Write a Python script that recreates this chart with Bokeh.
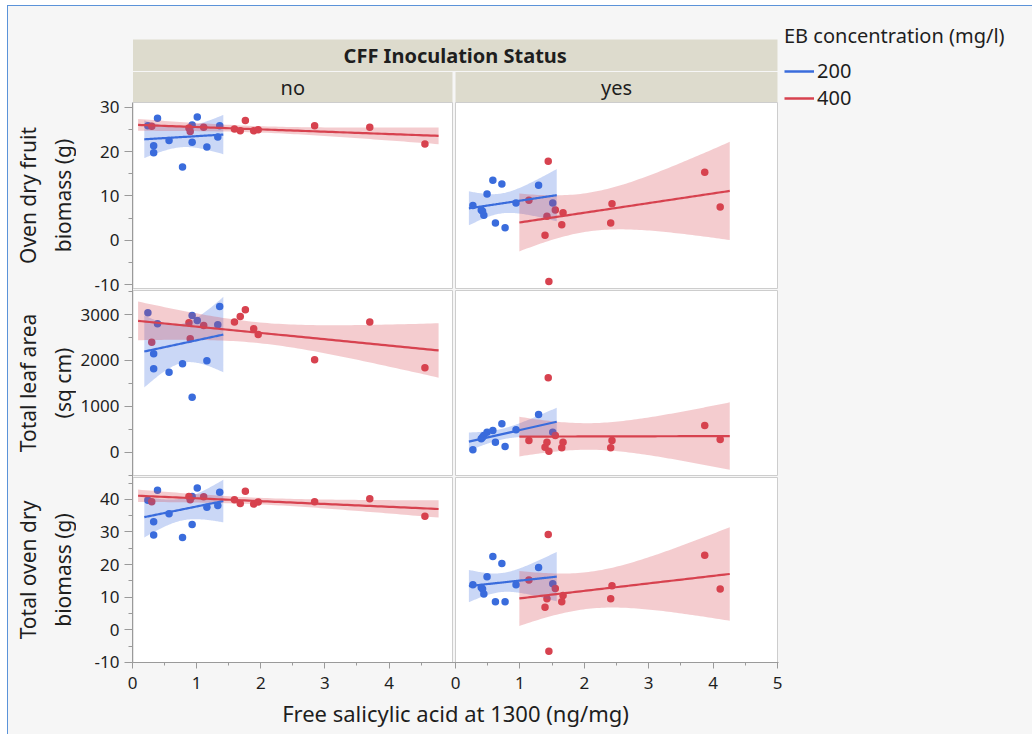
import numpy as np
from bokeh.plotting import figure
from bokeh.models import (Range1d, FixedTicker, CustomJSTickFormatter, Legend, LegendItem, Spacer)
from bokeh.layouts import column, row
from bokeh.embed import file_html
from bokeh.resources import INLINE
from bokeh.core.properties import value

# ---------------- data ----------------
status_labels = ["no", "yes"]
conc_labels = ["200", "400"]
row_titles = ["Oven dry fruit\nbiomass (g)", "Total leaf area\n(sq cm)", "Total oven dry\nbiomass (g)"]
x_title = "Free salicylic acid at 1300 (ng/mg)"
header_title = "CFF Inoculation Status"
legend_title = "EB concentration (mg/l)"

# CFF = no, EB = 200
x_no_200 = [0.24, 0.39, 0.33, 0.33, 0.57, 0.78, 0.93, 0.93, 1.01, 1.16, 1.33, 1.36]
fruit_no_200 = [25.8, 27.5, 21.3, 19.7, 22.5, 16.5, 26.0, 22.1, 27.8, 21.0, 23.3, 25.8]
leaf_no_200 = [3039, 2799, 2145, 1818, 1744, 1927, 2980, 1199, 2871, 1993, 2777, 3176]
total_no_200 = [39.7, 42.8, 33.1, 29.1, 35.6, 28.3, 40.9, 32.3, 43.5, 37.6, 38.1, 42.2]

# CFF = no, EB = 400
x_no_400 = [0.30, 0.88, 0.90, 1.11, 1.59, 1.68, 1.76, 1.89, 1.96, 2.84, 3.70, 4.56]
fruit_no_400 = [25.7, 25.3, 24.5, 25.5, 25.1, 24.7, 27.0, 24.7, 24.9, 25.8, 25.5, 21.7]
leaf_no_400 = [2398, 2821, 2472, 2762, 2834, 2958, 3104, 2690, 2566, 2014, 2834, 1840]
total_no_400 = [39.3, 40.9, 39.9, 40.8, 39.9, 38.7, 42.5, 38.6, 39.2, 39.3, 40.2, 34.8]

# CFF = yes, EB = 200
x_yes_200 = [0.27, 0.40, 0.42, 0.44, 0.49, 0.58, 0.62, 0.72, 0.77, 0.94, 1.29, 1.51]
fruit_yes_200 = [7.8, 6.8, 6.5, 5.6, 10.4, 13.5, 3.9, 12.7, 2.8, 8.4, 12.4, 8.4]
leaf_yes_200 = [52, 292, 327, 364, 436, 473, 218, 619, 124, 488, 822, 436]
total_yes_200 = [13.8, 13.0, 12.5, 11.0, 16.3, 22.5, 8.6, 20.3, 8.6, 13.8, 19.1, 14.1]

# CFF = yes, EB = 400
x_yes_400 = [1.14, 1.39, 1.42, 1.44, 1.45, 1.55, 1.65, 1.67, 2.41, 2.43, 3.87, 4.11]
fruit_yes_400 = [9.0, 1.1, 5.4, 17.8, -9.3, 6.8, 3.5, 6.2, 3.9, 8.2, 15.3, 7.5]
leaf_yes_400 = [255, 109, 218, 1622, 22, 364, 96, 218, 96, 255, 582, 277]
total_yes_400 = [15.3, 6.9, 9.5, 29.2, -6.6, 12.7, 8.6, 10.5, 9.5, 13.5, 22.9, 12.5]

# y-axis ranges and ticks per row
y_ranges = [(-10.9, 31.06), (-508, 3523), (-10.02, 46.7)]
y_ticks = [[-10, 0, 10, 20, 30], [0, 1000, 2000, 3000], [-10, 0, 10, 20, 30, 40]]
y_minor = [[-5, 5, 15, 25], [-500, 500, 1500, 2500, 3500], [-5, 5, 15, 25, 35, 45]]
x_ticks_left = [0, 1, 2, 3, 4]
x_ticks_right = [0, 1, 2, 3, 4, 5]
XL_END = 4.99
XR_END = 5.0

# ---------------- style / layout ----------------
BLUE = "#3a6cdc"
RED = "#d7424f"
BG = "#f6f6f6"
WIN_BLUE = "#5b93d9"
FONT = "Noto Sans"
TEXT = "#1e1e1e"
AXIS_GRAY = "#9a9a9a"
FRAME_GRAY = "#cdcdcd"
HEADER_FILL = "#dddbcd"
T975 = {10: 2.228}

PAGE_W, PAGE_H = 1032, 734
TOP_WHITE, LEFT_WHITE = 5, 7
CONTENT_W = PAGE_W - LEFT_WHITE - 1
CONTENT_H = PAGE_H - TOP_WHITE - 1
TITLES_W = 68
LEFT_BORDER = 56
PXL, GAP, PXR = 320, 3, 322
FRAME_W = PXL + GAP + PXR + 1
RIGHT_BORDER = 6
FIG_W = LEFT_BORDER + FRAME_W + RIGHT_BORDER
LEGEND_W = CONTENT_W - TITLES_W - FIG_W
TOP_BORDER = 16
BOTTOM_BORDER = 72
FRAME_H = CONTENT_H - TOP_BORDER - BOTTOM_BORDER
BAND = (17, 48.5)
STRIP = (49.5, 80)
CELLS_Y = [(80, 266), (268, 453), (455, FRAME_H)]
CELLS_X = [(0.5, PXL), (PXL + GAP, PXL + GAP + PXR)]
SL = PXL / XL_END
SR = PXR / XR_END
TITLE_X = 37


def fit_band(x, y, lo_lim, hi_lim):
    x = np.asarray(x, float)
    y = np.asarray(y, float)
    n = len(x)
    b, a = np.polyfit(x, y, 1)
    resid = y - (a + b * x)
    s = np.sqrt(np.sum(resid ** 2) / (n - 2))
    xbar = x.mean()
    sxx = np.sum((x - xbar) ** 2)
    span = x.max() - x.min()
    xs = np.linspace(x.min() - 0.05 * span, x.max() + 0.05 * span, 80)
    yh = a + b * xs
    half = T975[n - 2] * s * np.sqrt(1.0 / n + (xs - xbar) ** 2 / sxx)
    return xs, yh, np.clip(yh - half, lo_lim, hi_lim), np.clip(yh + half, lo_lim, hi_lim)


def base_fig(width, **kw):
    f = figure(width=width, height=CONTENT_H, output_backend="svg", toolbar_location=None,
               min_border_top=TOP_BORDER, min_border_bottom=BOTTOM_BORDER, **kw)
    f.grid.visible = False
    f.outline_line_color = None
    f.background_fill_color = BG
    f.border_fill_color = BG
    return f


# ---------------- row titles (own narrow figure, same frame height) ----------------
tf = base_fig(TITLES_W, x_range=Range1d(0, TITLES_W), y_range=Range1d(FRAME_H, 0),
              min_border_left=0, min_border_right=0, x_axis_location=None, y_axis_location=None)
tf.text(x=[TITLE_X] * 3, y=[(t + b) / 2 for t, b in CELLS_Y], text=row_titles, angle=np.pi / 2,
        text_align="center", text_baseline="middle", text_font=value(FONT),
        text_font_size="21px", text_color=TEXT, text_line_height=1.25)

# ---------------- main figure: header strips + 3x2 panel grid ----------------
p = base_fig(FIG_W, x_range=Range1d(0, FRAME_W), y_range=Range1d(FRAME_H, 0),
             min_border_left=LEFT_BORDER, min_border_right=RIGHT_BORDER,
             x_axis_location="below", y_axis_location="left")

p.extra_x_ranges = {"L": Range1d(0, FRAME_W / SL),
                    "R": Range1d(-(PXL + GAP) / SR, (FRAME_W - PXL - GAP) / SR)}
for r, ((y0, y1), (top, bot)) in enumerate(zip(y_ranges, CELLS_Y)):
    dpp = (y1 - y0) / (bot - top)
    p.extra_y_ranges["row%d" % r] = Range1d(y0 - (FRAME_H - bot) * dpp, y1 + top * dpp)

# header band and strips
p.quad(left=[CELLS_X[0][0]], right=[CELLS_X[1][1]], top=[BAND[0]], bottom=[BAND[1]],
       fill_color=HEADER_FILL, line_color=None)
p.quad(left=[c[0] for c in CELLS_X], right=[c[1] for c in CELLS_X], top=[STRIP[0]] * 2,
       bottom=[STRIP[1]] * 2, fill_color=HEADER_FILL, line_color=None)
p.text(x=[(CELLS_X[0][0] + CELLS_X[1][1]) / 2], y=[sum(BAND) / 2], text=[header_title],
       text_align="center", text_baseline="middle", text_font=value(FONT),
       text_font_size="20px", text_font_style="bold", text_color=TEXT)
p.text(x=[sum(c) / 2 for c in CELLS_X], y=[sum(STRIP) / 2] * 2, text=status_labels,
       text_align="center", text_baseline="middle", text_font=value(FONT),
       text_font_size="20px", text_color=TEXT)

# panel cells
cl, cr, ct, cb = [], [], [], []
for (top, bot) in CELLS_Y:
    for (lft, rgt) in CELLS_X:
        cl.append(lft); cr.append(rgt); ct.append(top); cb.append(bot)
p.quad(left=cl, right=cr, top=ct, bottom=cb, fill_color="white", line_color=FRAME_GRAY, line_width=1)

groups = {
    ("L", "200"): (x_no_200, [fruit_no_200, leaf_no_200, total_no_200]),
    ("L", "400"): (x_no_400, [fruit_no_400, leaf_no_400, total_no_400]),
    ("R", "200"): (x_yes_200, [fruit_yes_200, leaf_yes_200, total_yes_200]),
    ("R", "400"): (x_yes_400, [fruit_yes_400, leaf_yes_400, total_yes_400]),
}
colors = {"200": BLUE, "400": RED}

tick_pos, tick_lab, minor_pos = [], [], []
for r in range(3):
    yr = "row%d" % r
    y0, y1 = y_ranges[r]
    top, bot = CELLS_Y[r]
    for (rng, c), (xs, ys) in groups.items():
        p.scatter(xs, ys[r], size=7.5, fill_color=colors[c], line_color=None,
                  x_range_name=rng, y_range_name=yr)
    fits = {k: fit_band(xs, ys[r], y0, y1) for k, (xs, ys) in groups.items()}
    for (rng, c), (fx, fy, lo, hi) in fits.items():
        p.varea(x=fx, y1=lo, y2=hi, fill_color=colors[c], fill_alpha=0.27,
                x_range_name=rng, y_range_name=yr)
    for (rng, c), (fx, fy, lo, hi) in fits.items():
        p.line(fx, fy, line_color=colors[c], line_width=2.2, x_range_name=rng, y_range_name=yr)
    for v in y_ticks[r]:
        tick_pos.append(top + (y1 - v) / (y1 - y0) * (bot - top))
        tick_lab.append(str(v))
    for v in y_minor[r]:
        if y0 <= v <= y1:
            minor_pos.append(top + (y1 - v) / (y1 - y0) * (bot - top))

LOOKUP = ("let b = 0; for (let i = 0; i < pos.length; i++) "
          "{ if (Math.abs(pos[i] - tick) < Math.abs(pos[b] - tick)) b = i; } return lab[b];")

ax = p.yaxis[0]
ax.bounds = (CELLS_Y[0][0], FRAME_H)
ax.ticker = FixedTicker(ticks=tick_pos, minor_ticks=minor_pos)
ax.formatter = CustomJSTickFormatter(args=dict(pos=tick_pos, lab=tick_lab), code=LOOKUP)
ax.major_label_text_font = FONT
ax.major_label_text_font_size = "17px"
ax.major_label_text_color = TEXT
ax.major_label_standoff = 5
ax.major_tick_out = 8
ax.major_tick_in = 0
ax.minor_tick_out = 4
ax.minor_tick_in = 0
ax.axis_line_color = AXIS_GRAY
ax.major_tick_line_color = AXIS_GRAY
ax.minor_tick_line_color = AXIS_GRAY

xa = p.xaxis[0]
major = [t * SL for t in x_ticks_left] + [PXL + GAP + t * SR for t in x_ticks_right]
major_lab = [str(t) for t in x_ticks_left] + [str(t) for t in x_ticks_right]
minor = [(t + 0.5) * SL for t in x_ticks_left] + \
        [PXL + GAP + (t + 0.5) * SR for t in x_ticks_right[:-1]]
xa.ticker = FixedTicker(ticks=major, minor_ticks=minor)
xa.formatter = CustomJSTickFormatter(args=dict(pos=major, lab=major_lab), code=LOOKUP)
xa.axis_label = x_title
xa.axis_label_text_font = FONT
xa.axis_label_text_font_size = "22px"
xa.axis_label_text_font_style = "normal"
xa.axis_label_text_color = TEXT
xa.axis_label_standoff = 6
xa.major_label_text_font = FONT
xa.major_label_text_font_size = "17px"
xa.major_label_text_color = TEXT
xa.major_label_standoff = 8
xa.major_tick_out = 6
xa.major_tick_in = 0
xa.minor_tick_out = 3
xa.minor_tick_in = 0
xa.axis_line_color = AXIS_GRAY
xa.major_tick_line_color = AXIS_GRAY
xa.minor_tick_line_color = AXIS_GRAY

# ---------------- legend ----------------
lg = base_fig(LEGEND_W, x_range=Range1d(0, 1), y_range=Range1d(0, 1),
              min_border_left=0, min_border_right=0, x_axis_location=None, y_axis_location=None)
# legend-only renderers (NaN data: nothing drawn in the plot area)
r200 = lg.line(x=[np.nan], y=[np.nan], line_color=BLUE, line_width=2.5)
r400 = lg.line(x=[np.nan], y=[np.nan], line_color=RED, line_width=2.5)
leg = Legend(items=[LegendItem(label=conc_labels[0], renderers=[r200]),
                    LegendItem(label=conc_labels[1], renderers=[r400])],
             title=legend_title, location="top_left", margin=0, padding=0, spacing=0,
             title_standoff=8, label_height=26, glyph_height=26, glyph_width=30, label_standoff=3,
             border_line_color=None, background_fill_alpha=0)
leg.title_text_font = FONT
leg.title_text_font_size = "20px"
leg.title_text_font_style = "normal"
leg.title_text_color = TEXT
leg.label_text_font = FONT
leg.label_text_font_size = "20px"
leg.label_text_color = TEXT
lg.add_layout(leg)

content = row(tf, p, lg, spacing=0, styles={"background-color": BG})
blue_top = Spacer(width=CONTENT_W, height=1, styles={"background-color": WIN_BLUE})
blue_left = Spacer(width=1, height=CONTENT_H + 1, styles={"background-color": WIN_BLUE})
layout = column(Spacer(width=PAGE_W, height=TOP_WHITE),
                row(Spacer(width=LEFT_WHITE, height=CONTENT_H + 1), blue_left,
                    column(blue_top, content, spacing=0), spacing=0),
                spacing=0)
open("out.html", "w").write(file_html(layout, INLINE))
